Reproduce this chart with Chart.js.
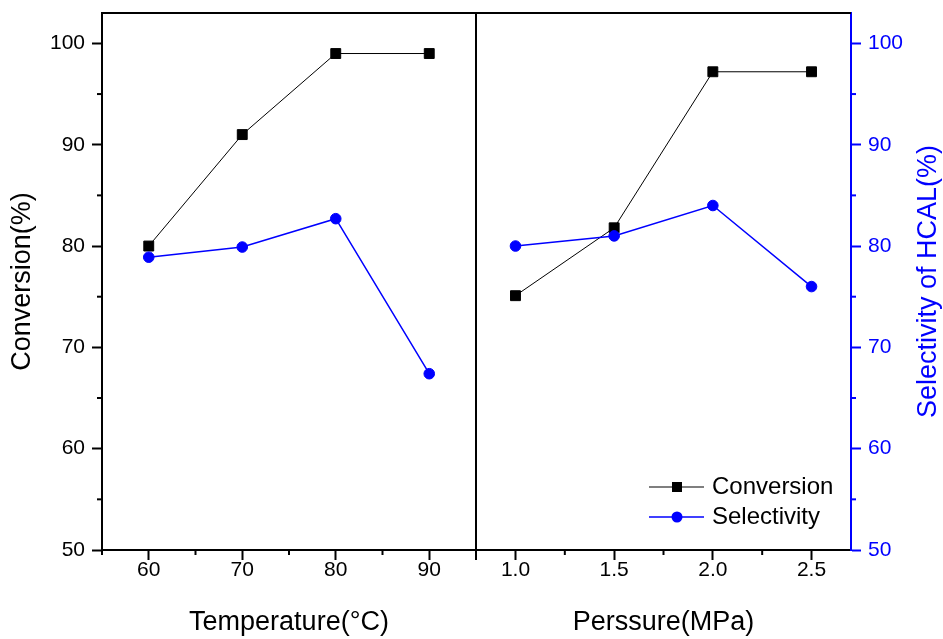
<!DOCTYPE html>
<html>
<head>
<meta charset="utf-8">
<script src="https://cdn.jsdelivr.net/npm/chart.js@4"></script>
<style>
html, body { margin: 0; padding: 0; background: #fff; }
#wrap { position: relative; width: 943px; height: 639px; overflow: hidden; }
canvas { position: absolute; top: 0; }
#left { left: 0; }
#right { left: 470px; }
</style>
</head>
<body>
<div id="wrap">
  <canvas id="left" width="480" height="639"></canvas>
  <canvas id="right" width="473" height="639"></canvas>
</div>
<script>
// data
const tempC = [60, 70, 80, 90];
const convTemp = [80.0, 91.0, 99.0, 99.0];
const selTemp = [78.9, 79.9, 82.7, 67.4];

const pressMPa = [1.0, 1.5, 2.0, 2.5];
const convPress = [75.1, 81.8, 97.2, 97.2];
const selPress = [80.0, 81.0, 84.0, 76.0];

// tick labels
const yTicks = [50, 60, 70, 80, 90, 100];
const yMinor = [55, 65, 75, 85, 95];
const tempTicks = [60, 70, 80, 90];
const tempMinor = [55, 65, 75, 85, 95];
const pressTicks = [1.0, 1.5, 2.0, 2.5];
const pressMinor = [1.25, 1.75, 2.25];

const FONT = "'Liberation Sans', Arial, sans-serif";
const BLUE = '#0000ff';

function pts(xs, ys) {
    return xs.map((x, i) => ({ x: x, y: ys[i] }));
}

function convSet(xs, ys) {
    return {
        label: 'Conversion',
        data: pts(xs, ys),
        borderColor: '#000',
        backgroundColor: '#000',
        borderWidth: 1,
        pointStyle: 'rect',
        pointRadius: 7,
        pointBorderWidth: 1,
        pointBorderColor: '#000',
        pointBackgroundColor: '#000',
        order: 1
    };
}

function selSet(xs, ys) {
    return {
        label: 'Selectivity',
        data: pts(xs, ys),
        borderColor: BLUE,
        backgroundColor: BLUE,
        borderWidth: 1.5,
        pointStyle: 'circle',
        pointRadius: 5.3,
        pointBorderWidth: 1,
        pointBorderColor: BLUE,
        pointBackgroundColor: BLUE,
        order: 0
    };
}

function fixTicks(list) {
    return function (scale) {
        scale.ticks = list.map(v => ({ value: v }));
    };
}

function line(ctx, x1, y1, x2, y2) {
    ctx.beginPath();
    ctx.moveTo(x1, y1);
    ctx.lineTo(x2, y2);
    ctx.stroke();
}

function yTitle(ctx, text, x, y, color) {
    ctx.save();
    ctx.translate(x, y);
    ctx.rotate(-Math.PI / 2);
    ctx.font = '27px ' + FONT;
    ctx.fillStyle = color;
    ctx.textAlign = 'center';
    ctx.textBaseline = 'middle';
    ctx.fillText(text, 0, 0);
    ctx.restore();
}

function minorTicks(ctx, chart, xMinor, yMinorList, ySide, yColor) {
    const a = chart.chartArea;
    const xs = chart.scales.x;
    const ys = chart.scales.y;
    ctx.lineWidth = 2;
    ctx.strokeStyle = '#000';
    xMinor.forEach(v => {
        const px = xs.getPixelForValue(v);
        line(ctx, px, a.bottom, px, a.bottom + 5);
    });
    ctx.strokeStyle = yColor;
    yMinorList.forEach(v => {
        const py = ys.getPixelForValue(v);
        if (ySide === 'left') line(ctx, a.left, py, a.left - 5, py);
        else line(ctx, a.right, py, a.right + 5, py);
    });
}

function yAxis(position, color, width) {
    return {
        type: 'linear',
        position: position,
        min: 50,
        max: 103,
        afterBuildTicks: fixTicks(yTicks),
        afterFit: function (scale) {
            scale.width = width;
            scale.paddingTop = 0;
            scale.paddingBottom = 0;
        },
        border: { display: true, color: color, width: 2 },
        grid: { drawOnChartArea: false, drawTicks: true, tickLength: 10, tickWidth: 2, tickColor: color },
        ticks: { color: color, padding: 7, font: { family: FONT, size: 21 } }
    };
}

function xAxis(min, max, list, title, fmt) {
    return {
        type: 'linear',
        position: 'bottom',
        min: min,
        max: max,
        afterBuildTicks: fixTicks(list),
        afterFit: function (scale) {
            scale.height = 89;
            scale.paddingLeft = 0;
            scale.paddingRight = 0;
        },
        border: { display: true, color: '#000', width: 2 },
        grid: { drawOnChartArea: false, drawTicks: true, tickLength: 10, tickWidth: 2, tickColor: '#000' },
        ticks: {
            color: '#000',
            padding: -2,
            maxRotation: 0,
            font: { family: FONT, size: 21 },
            callback: fmt
        },
        title: {
            display: true,
            text: title,
            color: '#000',
            padding: { top: 0, bottom: 0 },
            font: { family: FONT, size: 27 }
        }
    };
}

const leftFrame = {
    id: 'leftFrame',
    afterDraw(chart) {
        const ctx = chart.ctx;
        const a = chart.chartArea;
        ctx.save();
        ctx.strokeStyle = '#000';
        ctx.lineWidth = 2;
        line(ctx, a.left - 1, a.top, a.right + 1, a.top);
        line(ctx, a.right, a.top, a.right, a.bottom + 10);
        minorTicks(ctx, chart, tempMinor, yMinor, 'left', '#000');
        yTitle(ctx, 'Conversion(%)', 23, (a.top + a.bottom) / 2, '#000');
        ctx.restore();
    }
};

const rightFrame = {
    id: 'rightFrame',
    afterDraw(chart) {
        const ctx = chart.ctx;
        const a = chart.chartArea;
        ctx.save();
        ctx.strokeStyle = '#000';
        ctx.lineWidth = 2;
        line(ctx, a.left, a.top, a.right, a.top);
        minorTicks(ctx, chart, pressMinor, yMinor, 'right', BLUE);
        yTitle(ctx, 'Selectivity of HCAL(%)', 459, (a.top + a.bottom) / 2, BLUE);

        // legend, lower right of the pressure panel
        const rows = [487, 517];
        chart.data.datasets.forEach((ds, i) => {
            const y = rows[i];
            ctx.strokeStyle = i === 0 ? '#555' : BLUE;
            ctx.lineWidth = 1.5;
            line(ctx, 179, y, 234, y);
            ctx.fillStyle = ds.pointBackgroundColor;
            if (ds.pointStyle === 'rect') {
                ctx.fillRect(207 - 5, y - 5, 10, 10);
            } else {
                ctx.beginPath();
                ctx.arc(207, y, 5.5, 0, Math.PI * 2);
                ctx.fill();
            }
            ctx.fillStyle = '#000';
            ctx.font = '24px ' + FONT;
            ctx.textAlign = 'left';
            ctx.textBaseline = 'middle';
            ctx.fillText(ds.label, 242, y);
        });
        ctx.restore();
    }
};

new Chart(document.getElementById('left'), {
    type: 'line',
    data: { datasets: [convSet(tempC, convTemp), selSet(tempC, selTemp)] },
    options: {
        responsive: false,
        animation: false,
        layout: { autoPadding: false, padding: { top: 13, right: 4, left: 0, bottom: 0 } },
        plugins: { legend: { display: false }, tooltip: { enabled: false } },
        scales: {
            x: xAxis(55, 95, tempTicks, 'Temperature(°C)', v => String(v)),
            y: yAxis('left', '#000', 102)
        }
    },
    plugins: [leftFrame]
});

new Chart(document.getElementById('right'), {
    type: 'line',
    data: { datasets: [convSet(pressMPa, convPress), selSet(pressMPa, selPress)] },
    options: {
        responsive: false,
        animation: false,
        layout: { autoPadding: false, padding: { top: 13, right: 0, left: 6, bottom: 0 } },
        plugins: { legend: { display: false }, tooltip: { enabled: false } },
        scales: {
            x: xAxis(0.8, 2.7, pressTicks, 'Perssure(MPa)', v => Number(v).toFixed(1)),
            y: yAxis('right', BLUE, 92)
        }
    },
    plugins: [rightFrame]
});
</script>
</body>
</html>
